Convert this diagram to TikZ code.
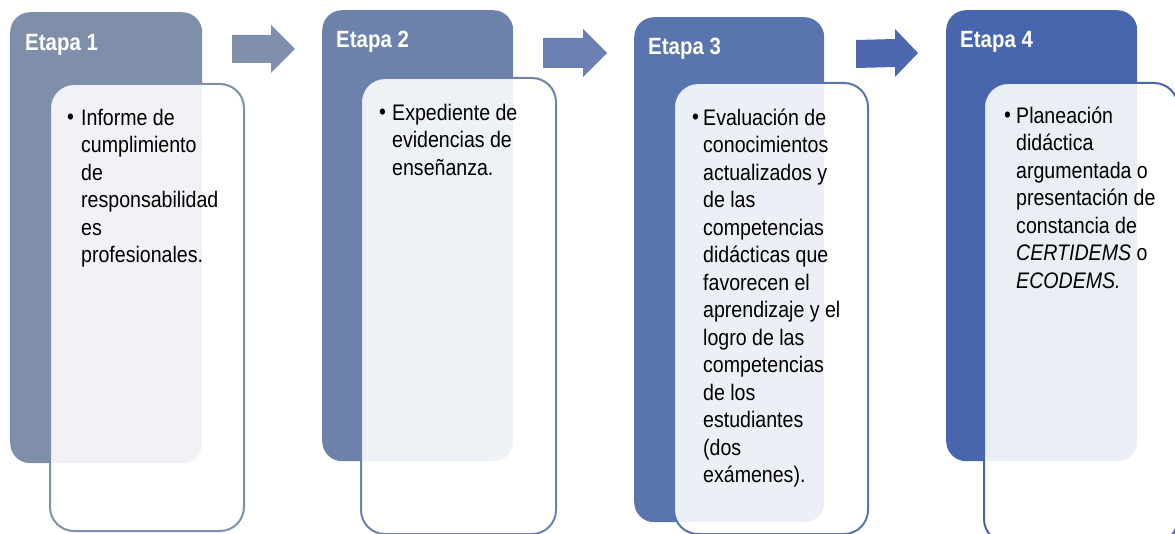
\documentclass[tikz,border=0pt]{standalone}
\usepackage{fontspec}
\setmainfont{Liberation Sans}[FakeStretch=0.87]
\definecolor{cA}{HTML}{7F8FA9}
\definecolor{cB}{HTML}{6D82AB}
\definecolor{cC}{HTML}{5A75AD}
\definecolor{cD}{HTML}{4866AD}
\definecolor{aA}{HTML}{7F8FAC}
\definecolor{aB}{HTML}{6A80B2}
\definecolor{aC}{HTML}{4E68B0}
\begin{document}
\begin{tikzpicture}[x=1pt,y=-1pt,
  stagebox/.style={rectangle, rounded corners=20pt, draw=none, inner sep=0pt, anchor=north west},
  detailbox/.style={rectangle, rounded corners=24pt, fill=white, fill opacity=0.89, line width=2pt, inner sep=0pt, anchor=north west},
  title/.style={text=white, font=\fontsize{23.5}{28}\selectfont\bfseries, anchor=base west, inner sep=0pt},
  bulletmark/.style={font=\fontsize{22.5}{27.5}\selectfont, anchor=base west, inner sep=0pt},
  body/.style={font=\fontsize{22.5}{27.5}\selectfont, align=left, anchor=north west, inner sep=0pt}]
\useasboundingbox (0,0) rectangle (1175,534);
\clip (0,0) rectangle (1175,534);
% Stage 1
\node[stagebox, fill=cA, minimum width=192pt, minimum height=451pt] (s1) at (10,12) {};
\node[detailbox, draw=cA, minimum width=194pt, minimum height=447pt] (d1) at (49,83) {};
\fill[aA] (232,35) -- ++(39,0) -- ++(0,-10) -- ++(24,24) -- ++(-24,24) -- ++(0,-10) -- ++(-39,0) -- cycle;
% Stage 2
\node[stagebox, fill=cB, minimum width=191pt, minimum height=451pt] (s2) at (322,10) {};
\node[detailbox, draw=cB, minimum width=195pt, minimum height=456pt] (d2) at (360,77) {};
\fill[aB] (543,38) -- ++(40,0) -- ++(0,-9) -- ++(24,24) -- ++(-24,24) -- ++(0,-9) -- ++(-40,0) -- cycle;
% Stage 3
\node[stagebox, fill=cC, minimum width=190pt, minimum height=505pt] (s3) at (634,17) {};
\node[detailbox, draw=cC, minimum width=194pt, minimum height=451pt] (d3) at (673,82) {};
\fill[aC] (856,40) -- ++(39,-1) -- ++(0,-10) -- ++(23,24) -- ++(-23,24) -- ++(0,-10) -- ++(-39,1) -- cycle;
% Stage 4
\node[stagebox, fill=cD, minimum width=191pt, minimum height=451pt] (s4) at (946,10) {};
\node[detailbox, draw=cD, minimum width=194pt, minimum height=460pt] (d4) at (983,82) {};
% Titles
\node[title] (t1) at (25,51) {Etapa 1};
\node[title] (t2) at (336,48) {Etapa 2};
\node[title] (t3) at (648,55) {Etapa 3};
\node[title] (t4) at (960,48) {Etapa 4};
% Bullets
\node[bulletmark] (b1) at (67,125) {•};
\node[bulletmark] (b2) at (379,120) {•};
\node[bulletmark] (b3) at (692,125) {•};
\node[bulletmark] (b4) at (1004,123) {•};
% Texts
\node[body] (x1) at (81,105.75) {\strut Informe de\\cumplimiento\\de\\responsabilidad\\es\\profesionales.};
\node[body] (x2) at (392,100.75) {\strut Expediente de\\evidencias de\\enseñanza.};
\node[body] (x3) at (703,105.75) {\strut Evaluación de\\conocimientos\\actualizados y\\de las\\competencias\\didácticas que\\favorecen el\\aprendizaje y el\\logro de las\\competencias\\de los\\estudiantes\\(dos\\exámenes).};
\node[body] (x4) at (1016,103.75) {\strut Planeación\\didáctica\\argumentada o\\presentación de\\constancia de\\\textit{CERTIDEMS} o\\\textit{ECODEMS.}};
\end{tikzpicture}
\end{document}
